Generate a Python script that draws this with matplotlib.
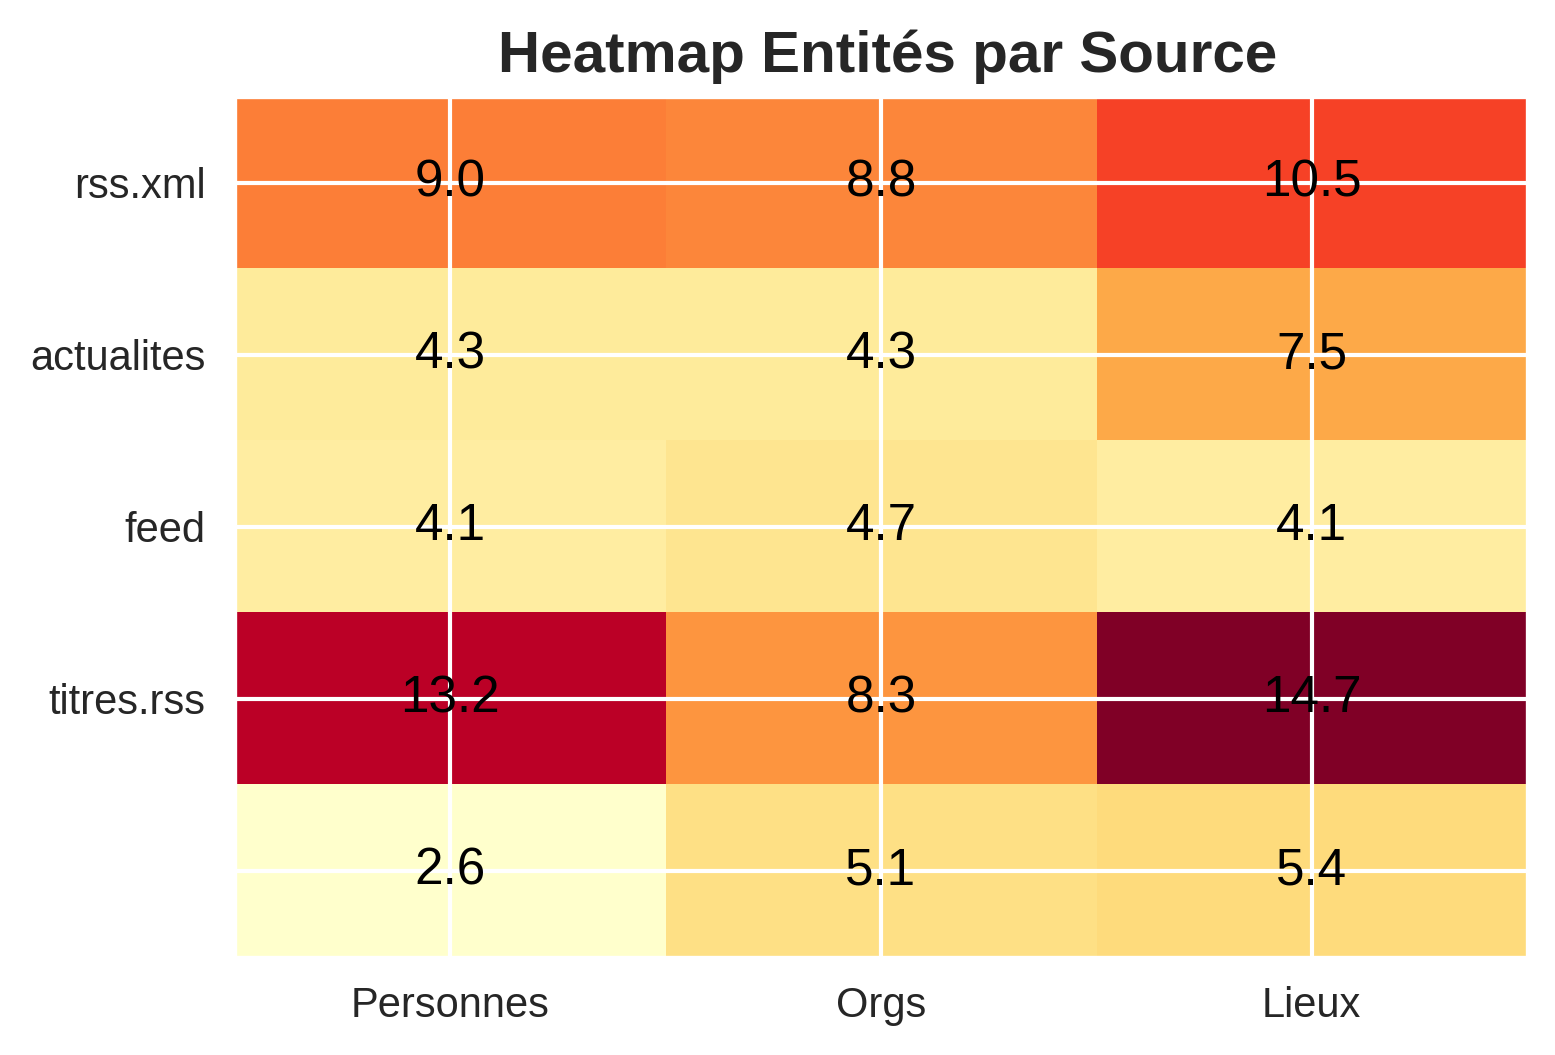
import numpy as np
import matplotlib
matplotlib.use("Agg")
import matplotlib.pyplot as plt
import seaborn as sns

sources = ["rss.xml", "actualites", "feed", "titres.rss", ""]
entity_types = ["Personnes", "Orgs", "Lieux"]
personnes = [9.0, 4.3, 4.1, 13.2, 2.6]
orgs = [8.8, 4.3, 4.7, 8.3, 5.1]
lieux = [10.5, 7.5, 4.1, 14.7, 5.4]

sns.set_style("darkgrid")
plt.rcParams["font.family"] = ["Liberation Sans", "DejaVu Sans"]
plt.rcParams["grid.linewidth"] = 1.0

data = np.array([personnes, orgs, lieux]).T

fig = plt.figure(figsize=(1555 / 300, 1055 / 300), dpi=300)
ax = fig.add_axes([0.1511, 0.0929, 0.8309, 0.8152])

ax.imshow(data, cmap="YlOrRd", aspect="auto")

for i in range(data.shape[0]):
    for j in range(data.shape[1]):
        ax.text(j, i, f"{data[i, j]:.1f}", ha="center", va="center",
                color="black", fontsize=12.3)

ax.set_xticks(range(len(entity_types)))
ax.set_xticklabels(entity_types, fontsize=10)
ax.set_yticks(range(len(sources)))
ax.set_yticklabels(sources, fontsize=10)
ax.tick_params(length=0, pad=7)
ax.set_title("Heatmap Entités par Source", fontsize=14, fontweight="bold",
             x=0.5055)

fig.savefig("out.png", dpi=300)
